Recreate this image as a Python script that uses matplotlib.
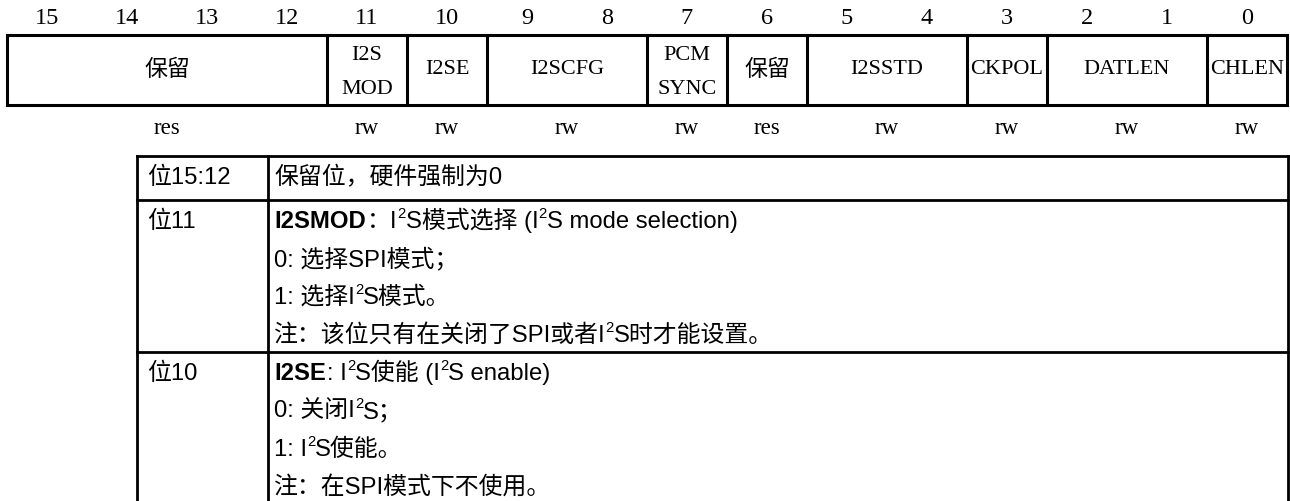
import re
import matplotlib
matplotlib.use("Agg")
import matplotlib.pyplot as plt
from matplotlib.patches import Rectangle

# ---------------- data ----------------
bit_numbers = list(range(15, -1, -1))
field_names = ["保留", "I2S\nMOD", "I2SE", "I2SCFG", "PCM\nSYNC", "保留",
               "I2SSTD", "CKPOL", "DATLEN", "CHLEN"]
field_msb = [15, 11, 10, 9, 7, 6, 5, 3, 2, 0]
field_lsb = [12, 11, 10, 8, 7, 6, 4, 3, 1, 0]
field_access = ["res", "rw", "rw", "rw", "rw", "res", "rw", "rw", "rw", "rw"]

# markup: **bold**, ^2 = superscript 2
row_bits = ["位15:12", "位11", "位10"]
row_head = ["保留位，硬件强制为0",
            "**I2SMOD**：I^2S模式选择 (I^2S mode selection)",
            "**I2SE**: I^2S使能 (I^2S enable)"]
row_lines = [[],
             ["0: 选择SPI模式；", "1: 选择I^2S模式。",
              "注：该位只有在关闭了SPI或者I^2S时才能设置。"],
             ["0: 关闭I^2S；", "1: I^2S使能。", "注：在SPI模式下不使用。"]]

# ---------------- layout ----------------
W, H = 1290, 502
fig = plt.figure(figsize=(W / 100, H / 100), dpi=100)
ax = fig.add_axes([0, 0, 1, 1])
ax.set_xlim(0, W)
ax.set_ylim(H, 0)
ax.axis("off")

REG_FONT = ["Liberation Serif", "Noto Sans CJK SC"]
TAB_FONT = ["Liberation Sans", "Noto Sans CJK SC"]

x0, bw = 7, 80
reg_top, reg_bot = 36, 106
lw_reg = 2.2


def bit_left(b):
    return x0 + (15 - b) * bw


for b in bit_numbers:
    ax.text(bit_left(b) + bw / 2, 19, str(b), ha="center", va="center",
            family=REG_FONT, fontsize=17.5)

ax.add_patch(Rectangle((x0, reg_top), 16 * bw, reg_bot - reg_top,
                       fill=False, lw=lw_reg, ec="black"))
for name, msb, lsb, acc in zip(field_names, field_msb, field_lsb, field_access):
    left = bit_left(msb)
    right = bit_left(lsb) + bw
    cx = (left + right) / 2
    if lsb != 0:
        ax.plot([right, right], [reg_top, reg_bot], color="black", lw=lw_reg,
                solid_capstyle="butt")
    parts = name.split("\n")
    fs_name = 16.5 if parts[0] == "保留" else 16
    if len(parts) == 1:
        ax.text(cx, 70, name, ha="center", va="center", family=REG_FONT,
                fontsize=fs_name)
    else:
        for yy, p in zip([56, 90], parts):
            ax.text(cx, yy, p, ha="center", va="center", family=REG_FONT,
                    fontsize=fs_name)
    ax.text(cx, 129, acc, ha="center", va="center", family=REG_FONT,
            fontsize=16.5)

# description table
t_left, t_div, t_right = 137, 268, 1288
t_top = 157
row_bounds = [157, 201, 353]
pitch = 38
lw_tab = 2.0
FS = 17.2
EM = FS * 100 / 72

ax.plot([t_left, t_right], [t_top, t_top], color="black", lw=lw_tab,
        solid_capstyle="projecting")
for yb in row_bounds[1:]:
    ax.plot([t_left, t_right], [yb, yb], color="black", lw=lw_tab)
for xv in (t_left, t_div, t_right):
    ax.plot([xv, xv], [t_top, H + 5], color="black", lw=lw_tab)

renderer = fig.canvas.get_renderer()


def draw_rich(x, base, s):
    tokens = [t for t in re.split(r"(\*\*[^*]+\*\*|\^2)", s) if t]
    xx = x
    for k, tok in enumerate(tokens):
        nxt = tokens[k + 1] if k + 1 < len(tokens) else ""
        if tok.startswith("**"):
            t = ax.text(xx, base, tok[2:-2], ha="left", va="baseline",
                        family=TAB_FONT, fontsize=FS, fontweight="bold")
        elif tok == "^2":
            t = ax.text(xx, base - 0.40 * EM, "2", ha="left", va="baseline",
                        family=TAB_FONT, fontsize=FS * 0.62)
        else:
            t = ax.text(xx, base, tok, ha="left", va="baseline",
                        family=TAB_FONT, fontsize=FS)
        bb = t.get_window_extent(renderer=renderer)
        if nxt == "^2":
            gap = 0.0
        elif tok == "^2":
            gap = 0.0
        else:
            gap = 1.5
        xx = bb.x1 + gap


tx1, tx2 = 147, 274
for i, (rb, head, lines) in enumerate(zip(row_bits, row_head, row_lines)):
    base = row_bounds[i] + 19 + 8
    draw_rich(tx1, base, rb)
    draw_rich(tx2, base, head)
    for j, ln in enumerate(lines):
        draw_rich(tx2, base + (j + 1) * pitch, ln)

fig.savefig("out.png", dpi=100, facecolor="white")
